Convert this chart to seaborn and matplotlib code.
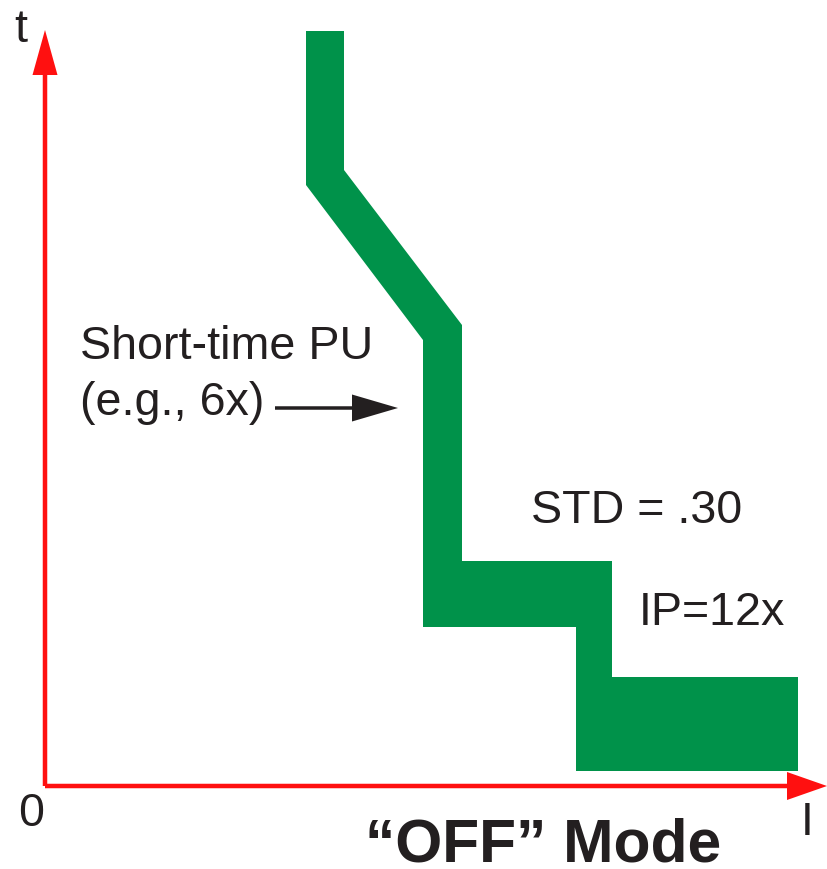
import matplotlib
matplotlib.use("Agg")
import matplotlib.pyplot as plt
import seaborn as sns

sns.set_style("white")
plt.rcParams["font.family"] = ["Liberation Sans", "DejaVu Sans"]

# trip band outline (current I, time t), walked clockwise from the top left
band_I = [261, 299, 299, 417, 417, 567, 567, 753, 753, 531, 531, 378, 378, 261]
band_t = [755, 755, 616, 461, 225, 225, 109, 109, 15, 15, 159, 159, 446, 601]

labels = ["Short-time PU", "(e.g., 6x)", "STD = .30", "IP=12x"]
title = "\u201cOFF\u201d Mode"

green = "#00924a"
red = "#ff1010"
ink = "#231f20"

fig = plt.figure(figsize=(8.28, 8.69), dpi=100)
ax = fig.add_axes([0, 0, 1, 1])
ax.set_xlim(-45, 783)
ax.set_ylim(-83, 786)
ax.axis("off")

ax.fill(band_I, band_t, color=green, lw=0)

# axes as red arrows
ax.arrow(0, 0, 0, 756, width=4.5, head_width=25, head_length=45,
         length_includes_head=True, color=red, lw=0)
ax.arrow(0, 0, 782, 0, width=4.5, head_width=28, head_length=40,
         length_includes_head=True, color=red, lw=0)

# pointer to short-time pickup
ax.arrow(230, 378, 123, 0, width=3.5, head_width=27, head_length=46,
         length_includes_head=True, color=ink, lw=0)

fs = 33.6
ax.text(35, 427, labels[0], fontsize=fs, color=ink, va="baseline")
ax.text(35, 371, labels[1], fontsize=fs, color=ink, va="baseline")
ax.text(486, 263, labels[2], fontsize=fs, color=ink, va="baseline")
ax.text(594, 161, labels[3], fontsize=fs, color=ink, va="baseline")
ax.text(-31, 744, "t", fontsize=fs, color=ink, va="baseline")
ax.text(-27, -40, "0", fontsize=fs, color=ink, va="baseline")
ax.text(756, -49, "I", fontsize=fs, color=ink, va="baseline")
ax.text(320, -75, title, fontsize=43.6, fontweight="bold", color=ink,
        va="baseline")

fig.savefig("out.png", dpi=100)
